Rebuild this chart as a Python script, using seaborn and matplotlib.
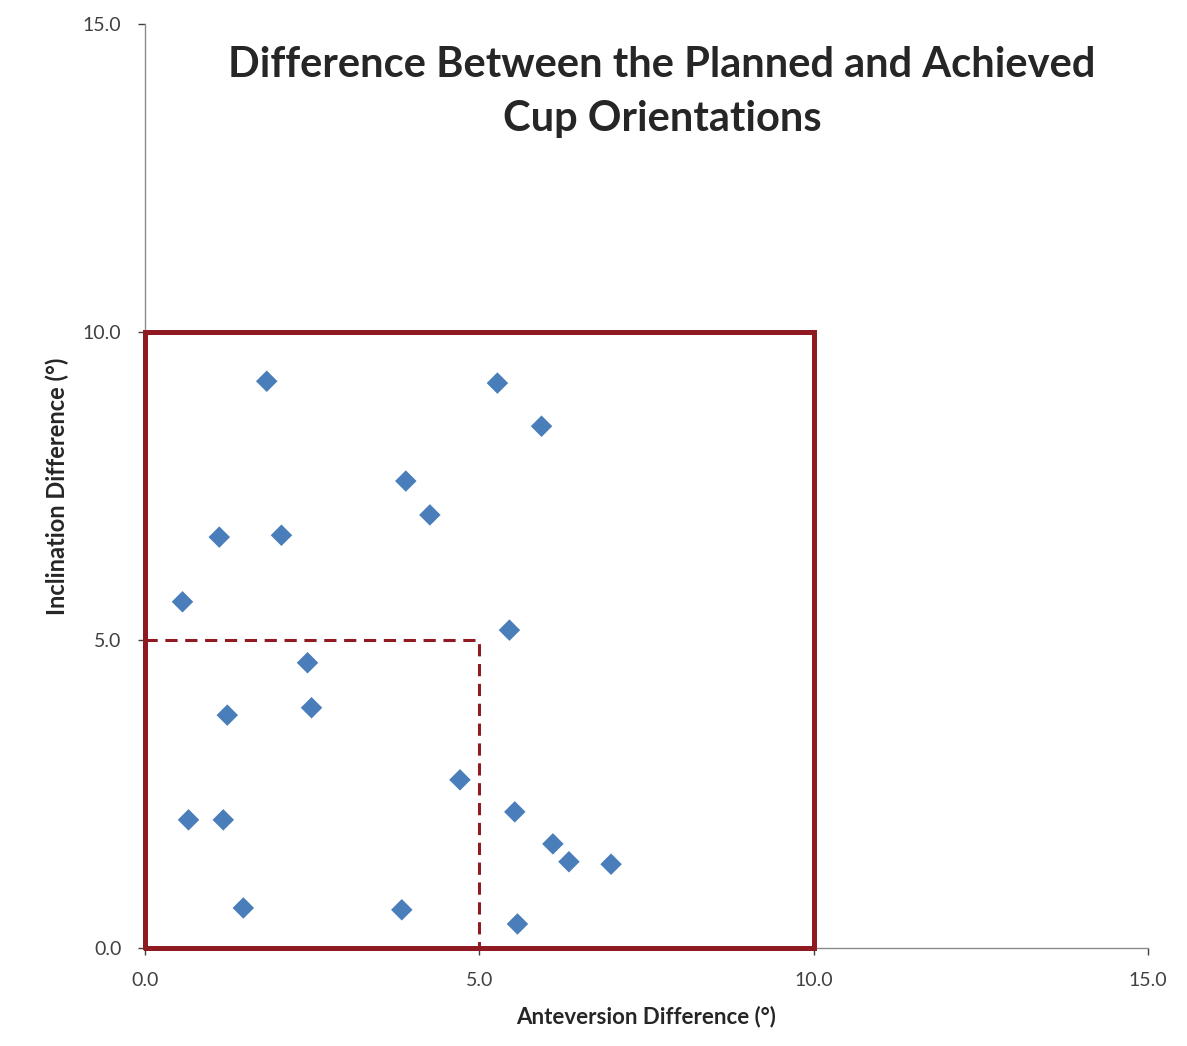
import matplotlib
matplotlib.use("Agg")
import matplotlib.pyplot as plt
import seaborn as sns
import pandas as pd


# DATA - differences (degrees)
anteversion = [1.82, 5.27, 5.93, 3.90, 4.26, 1.11, 2.04, 0.56, 5.45, 2.43, 2.49,
               1.23, 4.71, 0.65, 1.17, 5.53, 6.10, 6.34, 6.97, 1.47, 3.84, 5.57]
inclination = [9.20, 9.17, 8.47, 7.58, 7.03, 6.67, 6.70, 5.62, 5.16, 4.63, 3.90,
               3.78, 2.73, 2.08, 2.08, 2.21, 1.69, 1.40, 1.36, 0.65, 0.62, 0.39]
outer_limit = 10.0   # safe zone box
inner_limit = 5.0    # tighter zone (dashed)
ticks = [0, 5, 10, 15]
tick_labels = ["0.0", "5.0", "10.0", "15.0"]

if __name__ == "__main__":
    df = pd.DataFrame({"Anteversion": anteversion, "Inclination": inclination})

    sns.set_theme(style="ticks")
    plt.rcParams["font.family"] = ["Lato", "DejaVu Sans"]

    fig = plt.figure(figsize=(11.87, 10.46), dpi=100)
    ax = fig.add_axes([0.1222, 0.0937, 0.8449, 0.8834])

    box_color = "#901a22"
    # outer box (drawn above the spines)
    ax.plot([0, 0, outer_limit, outer_limit, 0], [0, outer_limit, outer_limit, 0, 0],
            color=box_color, lw=3.6, zorder=3, solid_joinstyle="miter", clip_on=False)
    # dashed inner limit
    ax.plot([0, inner_limit, inner_limit], [inner_limit, inner_limit, 0],
            color=box_color, lw=2.2, ls=(0, (4, 2.5)), zorder=3, clip_on=False)

    sns.scatterplot(data=df, x="Anteversion", y="Inclination", marker="D", s=120,
                    color="#4a7ebb", edgecolor="none", ax=ax, zorder=4)

    ax.set_xlim(0, 15)
    ax.set_ylim(0, 15)
    ax.set_xticks(ticks, tick_labels)
    ax.set_yticks(ticks, tick_labels)
    ax.tick_params(labelsize=14, colors="#404040", length=5, width=1, pad=12)
    for side in ["left", "bottom"]:
        ax.spines[side].set_color("#8c8c8c")
        ax.spines[side].set_linewidth(1)
    sns.despine(ax=ax)

    ax.set_xlabel("Anteversion Difference (°)", fontsize=16, fontweight="bold", labelpad=12)
    ax.set_ylabel("Inclination Difference (°)", fontsize=17, fontweight="bold", labelpad=10)

    fig.text(0.5577, 0.912, "Difference Between the Planned and Achieved\nCup Orientations",
             ha="center", va="center", fontsize=30, fontweight="bold", linespacing=1.5)

    plt.savefig("out.png", dpi=100)
